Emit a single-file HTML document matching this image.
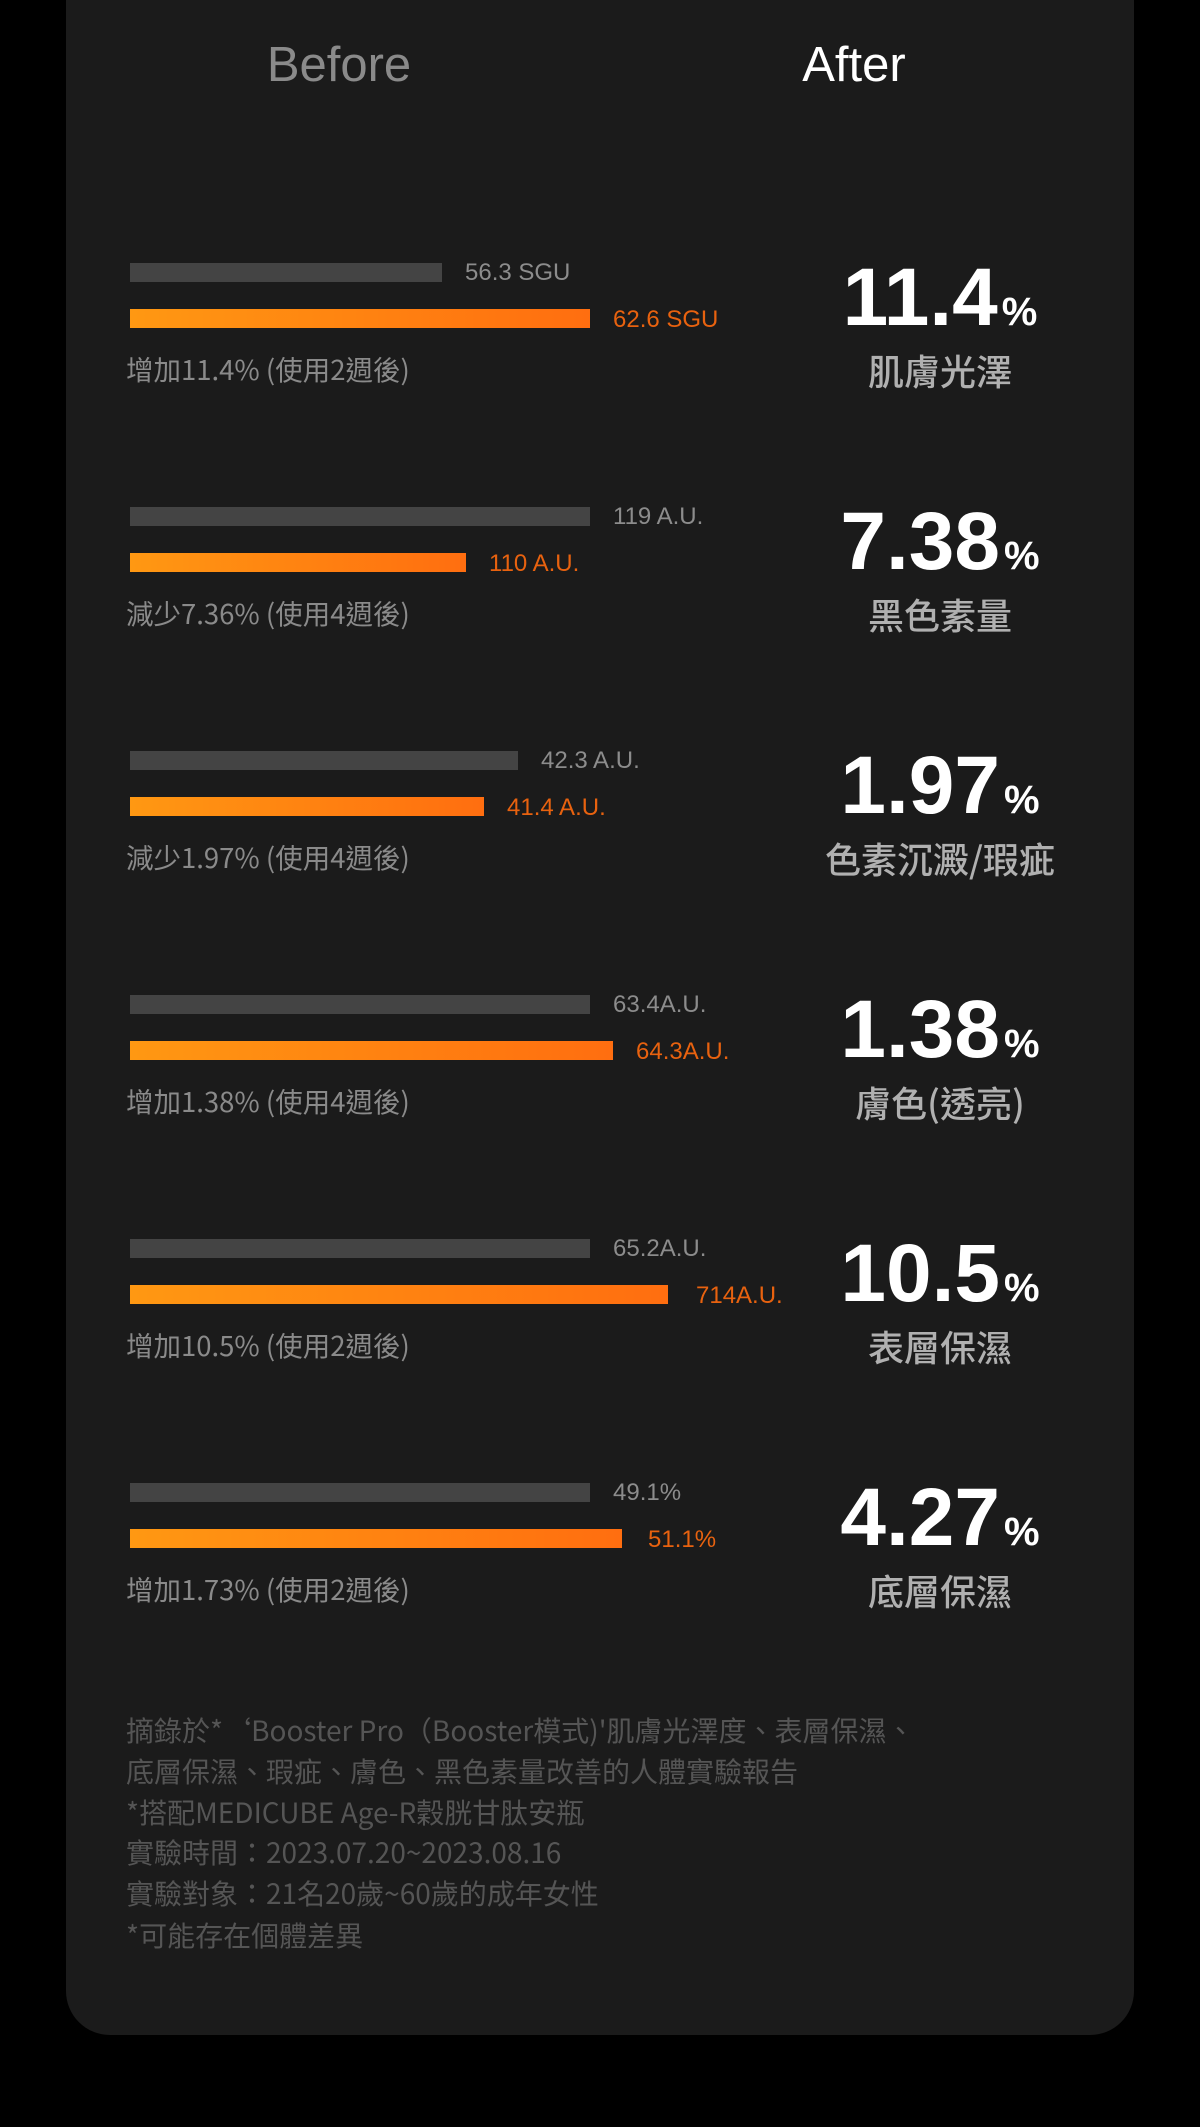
<!DOCTYPE html>
<html><head><meta charset="utf-8"><style>
html,body{margin:0;padding:0;background:#000;}
body{width:1200px;height:2127px;position:relative;overflow:hidden;font-family:"Liberation Sans","Noto Sans CJK TC",sans-serif;}
.card{position:absolute;left:66px;top:-60px;width:1068px;height:2095px;background:#1b1b1b;border-radius:44px;}
.t{position:absolute;white-space:nowrap;}
.bar{position:absolute;height:19px;}
.g{background:#444;}
.o{background:linear-gradient(90deg,#ff9812,#ff6e10);}
.gl{color:#8c8c8c;font-size:24px;line-height:24px;}
.ol{color:#e8620f;font-size:24px;line-height:24px;}
.cap{color:#8a8a8a;font-size:27.5px;line-height:27px;font-family:"Noto Sans CJK TC",sans-serif;}
.big{color:#fff;font-weight:bold;font-size:82px;line-height:82px;width:300px;left:790px;text-align:center;}
.big span{font-size:40px;margin-left:4px;}
.sub{color:#b0b0b0;font-size:36px;line-height:36px;width:300px;left:790px;text-align:center;font-weight:500;font-family:"Noto Sans CJK TC",sans-serif;}
.ft{color:#555;font-size:28px;line-height:28px;left:126px;font-family:"Noto Sans CJK TC",sans-serif;}
</style></head><body>
<div class="card"></div>
<div class="t" style="left:239px;width:200px;text-align:center;top:41px;font-size:49px;line-height:49px;color:#8a8a8a;">Before</div>
<div class="t" style="left:754px;width:200px;text-align:center;top:41px;font-size:49px;line-height:49px;color:#fff;">After</div>

<div class="bar g" style="left:130px;top:263px;width:312px"></div>
<div class="t gl" style="left:465px;top:261px">56.3 SGU</div>
<div class="bar o" style="left:130px;top:309px;width:460px"></div>
<div class="t ol" style="left:613px;top:308px">62.6 SGU</div>
<div class="t cap" style="left:126px;top:355px">增加11.4% (使用2週後)</div>
<div class="t big" style="top:257px">11.4<span>%</span></div>
<div class="t sub" style="top:352px">肌膚光澤</div>

<div class="bar g" style="left:130px;top:507px;width:460px"></div>
<div class="t gl" style="left:613px;top:505px">119 A.U.</div>
<div class="bar o" style="left:130px;top:553px;width:336px"></div>
<div class="t ol" style="left:489px;top:552px">110 A.U.</div>
<div class="t cap" style="left:126px;top:599px">減少7.36% (使用4週後)</div>
<div class="t big" style="top:501px">7.38<span>%</span></div>
<div class="t sub" style="top:596px">黑色素量</div>

<div class="bar g" style="left:130px;top:751px;width:388px"></div>
<div class="t gl" style="left:541px;top:749px">42.3 A.U.</div>
<div class="bar o" style="left:130px;top:797px;width:354px"></div>
<div class="t ol" style="left:507px;top:796px">41.4 A.U.</div>
<div class="t cap" style="left:126px;top:843px">減少1.97% (使用4週後)</div>
<div class="t big" style="top:745px">1.97<span>%</span></div>
<div class="t sub" style="top:840px">色素沉澱/瑕疵</div>

<div class="bar g" style="left:130px;top:995px;width:460px"></div>
<div class="t gl" style="left:613px;top:993px">63.4A.U.</div>
<div class="bar o" style="left:130px;top:1041px;width:483px"></div>
<div class="t ol" style="left:636px;top:1040px">64.3A.U.</div>
<div class="t cap" style="left:126px;top:1087px">增加1.38% (使用4週後)</div>
<div class="t big" style="top:989px">1.38<span>%</span></div>
<div class="t sub" style="top:1084px">膚色(透亮)</div>

<div class="bar g" style="left:130px;top:1239px;width:460px"></div>
<div class="t gl" style="left:613px;top:1237px">65.2A.U.</div>
<div class="bar o" style="left:130px;top:1285px;width:538px"></div>
<div class="t ol" style="left:696px;top:1284px">714A.U.</div>
<div class="t cap" style="left:126px;top:1331px">增加10.5% (使用2週後)</div>
<div class="t big" style="top:1233px">10.5<span>%</span></div>
<div class="t sub" style="top:1328px">表層保濕</div>

<div class="bar g" style="left:130px;top:1483px;width:460px"></div>
<div class="t gl" style="left:613px;top:1481px">49.1%</div>
<div class="bar o" style="left:130px;top:1529px;width:492px"></div>
<div class="t ol" style="left:648px;top:1528px">51.1%</div>
<div class="t cap" style="left:126px;top:1575px">增加1.73% (使用2週後)</div>
<div class="t big" style="top:1477px">4.27<span>%</span></div>
<div class="t sub" style="top:1572px">底層保濕</div>

<div class="t ft" style="top:1716px">摘錄於*‘Booster Pro（Booster模式)'肌膚光澤度、表層保濕、</div>
<div class="t ft" style="top:1757px">底層保濕、瑕疵、膚色、黑色素量改善的人體實驗報告</div>
<div class="t ft" style="top:1798px">*搭配MEDICUBE Age-R穀胱甘肽安瓶</div>
<div class="t ft" style="top:1838px">實驗時間：2023.07.20~2023.08.16</div>
<div class="t ft" style="top:1879px">實驗對象：21名20歲~60歲的成年女性</div>
<div class="t ft" style="top:1921px">*可能存在個體差異</div>
</body></html>
